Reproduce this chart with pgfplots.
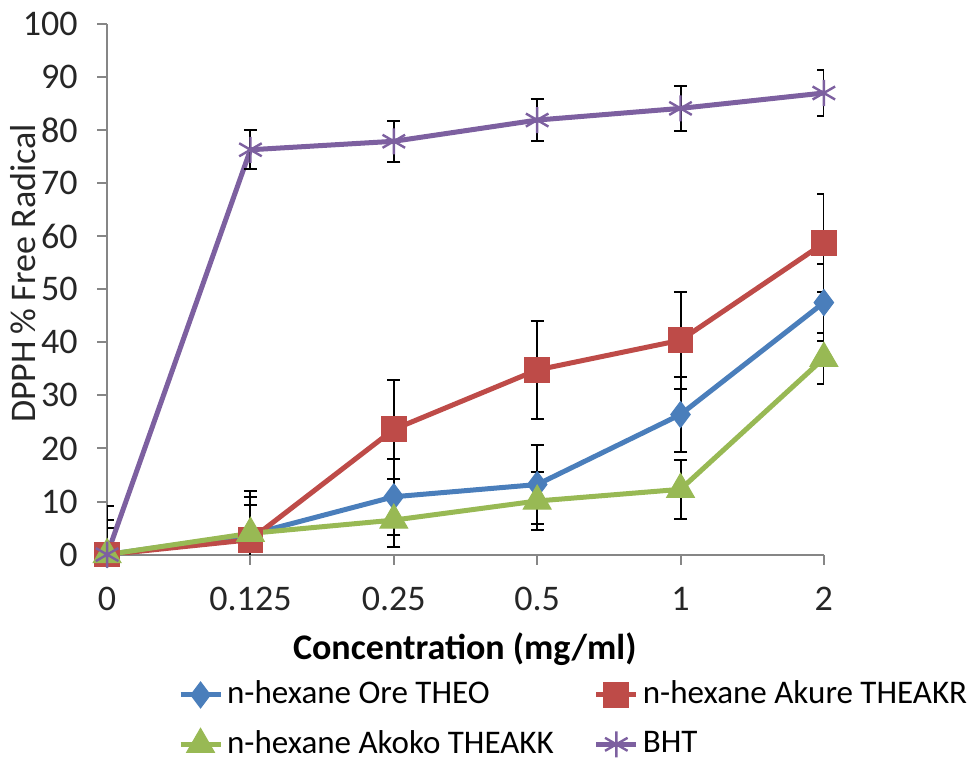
\documentclass[border=0pt]{standalone}
\usepackage{fontspec}
\setmainfont{Carlito}
\usepackage{pgfplots}
\usepackage{pgfplotstable}
\pgfplotsset{compat=1.18}
\definecolor{cblue}{HTML}{4A7EBB}
\definecolor{cred}{HTML}{BE4B48}
\definecolor{cgreen}{HTML}{98B954}
\definecolor{cpurple}{HTML}{7D60A0}
\definecolor{axgray}{HTML}{868686}
\pgfplotstableread{
x y e
0 0 6.5
1 3.8 7.1
2 10.9 7.2
3 13.2 7.5
4 26.4 7.0
5 47.5 7.2
}\theo
\pgfplotstableread{
x y e
0 0 9.1
1 2.8 9.2
2 23.6 9.3
3 34.8 9.3
4 40.4 9.1
5 58.7 9.2
}\theakr
\pgfplotstableread{
x y e
0 0 5.1
1 4.0 5.4
2 6.5 5.1
3 10.1 5.4
4 12.3 5.6
5 37.0 4.8
}\theakk
\pgfplotstableread{
x y e
0 0 0
1 76.3 3.7
2 77.9 3.9
3 81.9 4.0
4 84.1 4.2
5 87.0 4.3
}\bht
\begin{document}
\fontsize{18}{21.6}\selectfont
\begin{tikzpicture}
\begin{axis}[
  name=ax,
  scale only axis, width=358pt, height=265pt,
  xmin=0, xmax=5, ymin=0, ymax=100,
  xtick={0,1,2,3,4,5},
  xticklabels={0,0.125,0.25,0.5,1,2},
  ytick={0,10,...,100},
  axis x line*=bottom, axis y line*=left,
  axis line style={axgray, line width=1pt},
  tick style={axgray, line width=1pt},
  tick align=outside, major tick length=5pt,
  /pgf/number format/assume math mode=true,
  ticklabel style={font=\fontsize{18}{21.6}\selectfont, text=black!85},
  yticklabel style={xshift=-3.5pt},
  xticklabel style={yshift=-5pt},
  ylabel={DPPH\,\% Free Radical},
  ylabel style={at={(axis description cs:-0.117,0.53)}, anchor=center, font=\fontsize{18}{21.6}\selectfont, text=black!85},
  xlabel={\textbf{Concentration (mg/ml)}},
  xlabel style={at={(axis description cs:0.499,-0.179)}, anchor=center, font=\fontsize{18}{21.6}\selectfont},
  legend columns=2,
  legend cell align=left,
  legend style={draw=none, fill=none, at={(axis description cs:0.09,-0.222)}, anchor=north west,
    font=\fontsize{16.5}{19.8}\selectfont, row sep=6.5pt,
    /tikz/every even column/.append style={column sep=18pt}},
  legend image code/.code={\draw[mark repeat=2, mark phase=2, #1] plot coordinates {(0pt,0pt)(10pt,0pt)(20pt,0pt)};},
  error bars/error bar style={black, line width=1pt},
  error bars/error mark options={black, line width=1pt, mark size=3.3pt, rotate=90},
]
\addplot[cblue, line width=2.5pt, mark=diamond*, mark size=6.5pt, mark options={line width=0.5pt},
  error bars/.cd, y dir=both, y explicit] table[x=x, y=y, y error=e] {\theo};
\addlegendentry{n-hexane Ore THEO}
\addplot[cred, line width=2.5pt, mark=square*, mark size=6.2pt, mark options={line width=0.5pt},
  error bars/.cd, y dir=both, y explicit] table[x=x, y=y, y error=e] {\theakr};
\addlegendentry{n-hexane Akure THEAKR}
\addplot[cgreen, line width=2.5pt, mark=triangle*, mark size=8pt, mark options={line width=0.5pt},
  error bars/.cd, y dir=both, y explicit] table[x=x, y=y, y error=e] {\theakk};
\addlegendentry{n-hexane Akoko THEAKK}
\addplot[cpurple, line width=2.5pt, mark=asterisk, mark size=6.5pt, mark options={line width=1.2pt},
  error bars/.cd, y dir=both, y explicit] table[x=x, y=y, y error=e] {\bht};
\addlegendentry{BHT}
\end{axis}
\pgfresetboundingbox
\path[use as bounding box] ([xshift=-53.5pt,yshift=-103.5pt]ax.south west) rectangle ([xshift=75.5pt,yshift=12pt]ax.north east);
\end{tikzpicture}
\end{document}
